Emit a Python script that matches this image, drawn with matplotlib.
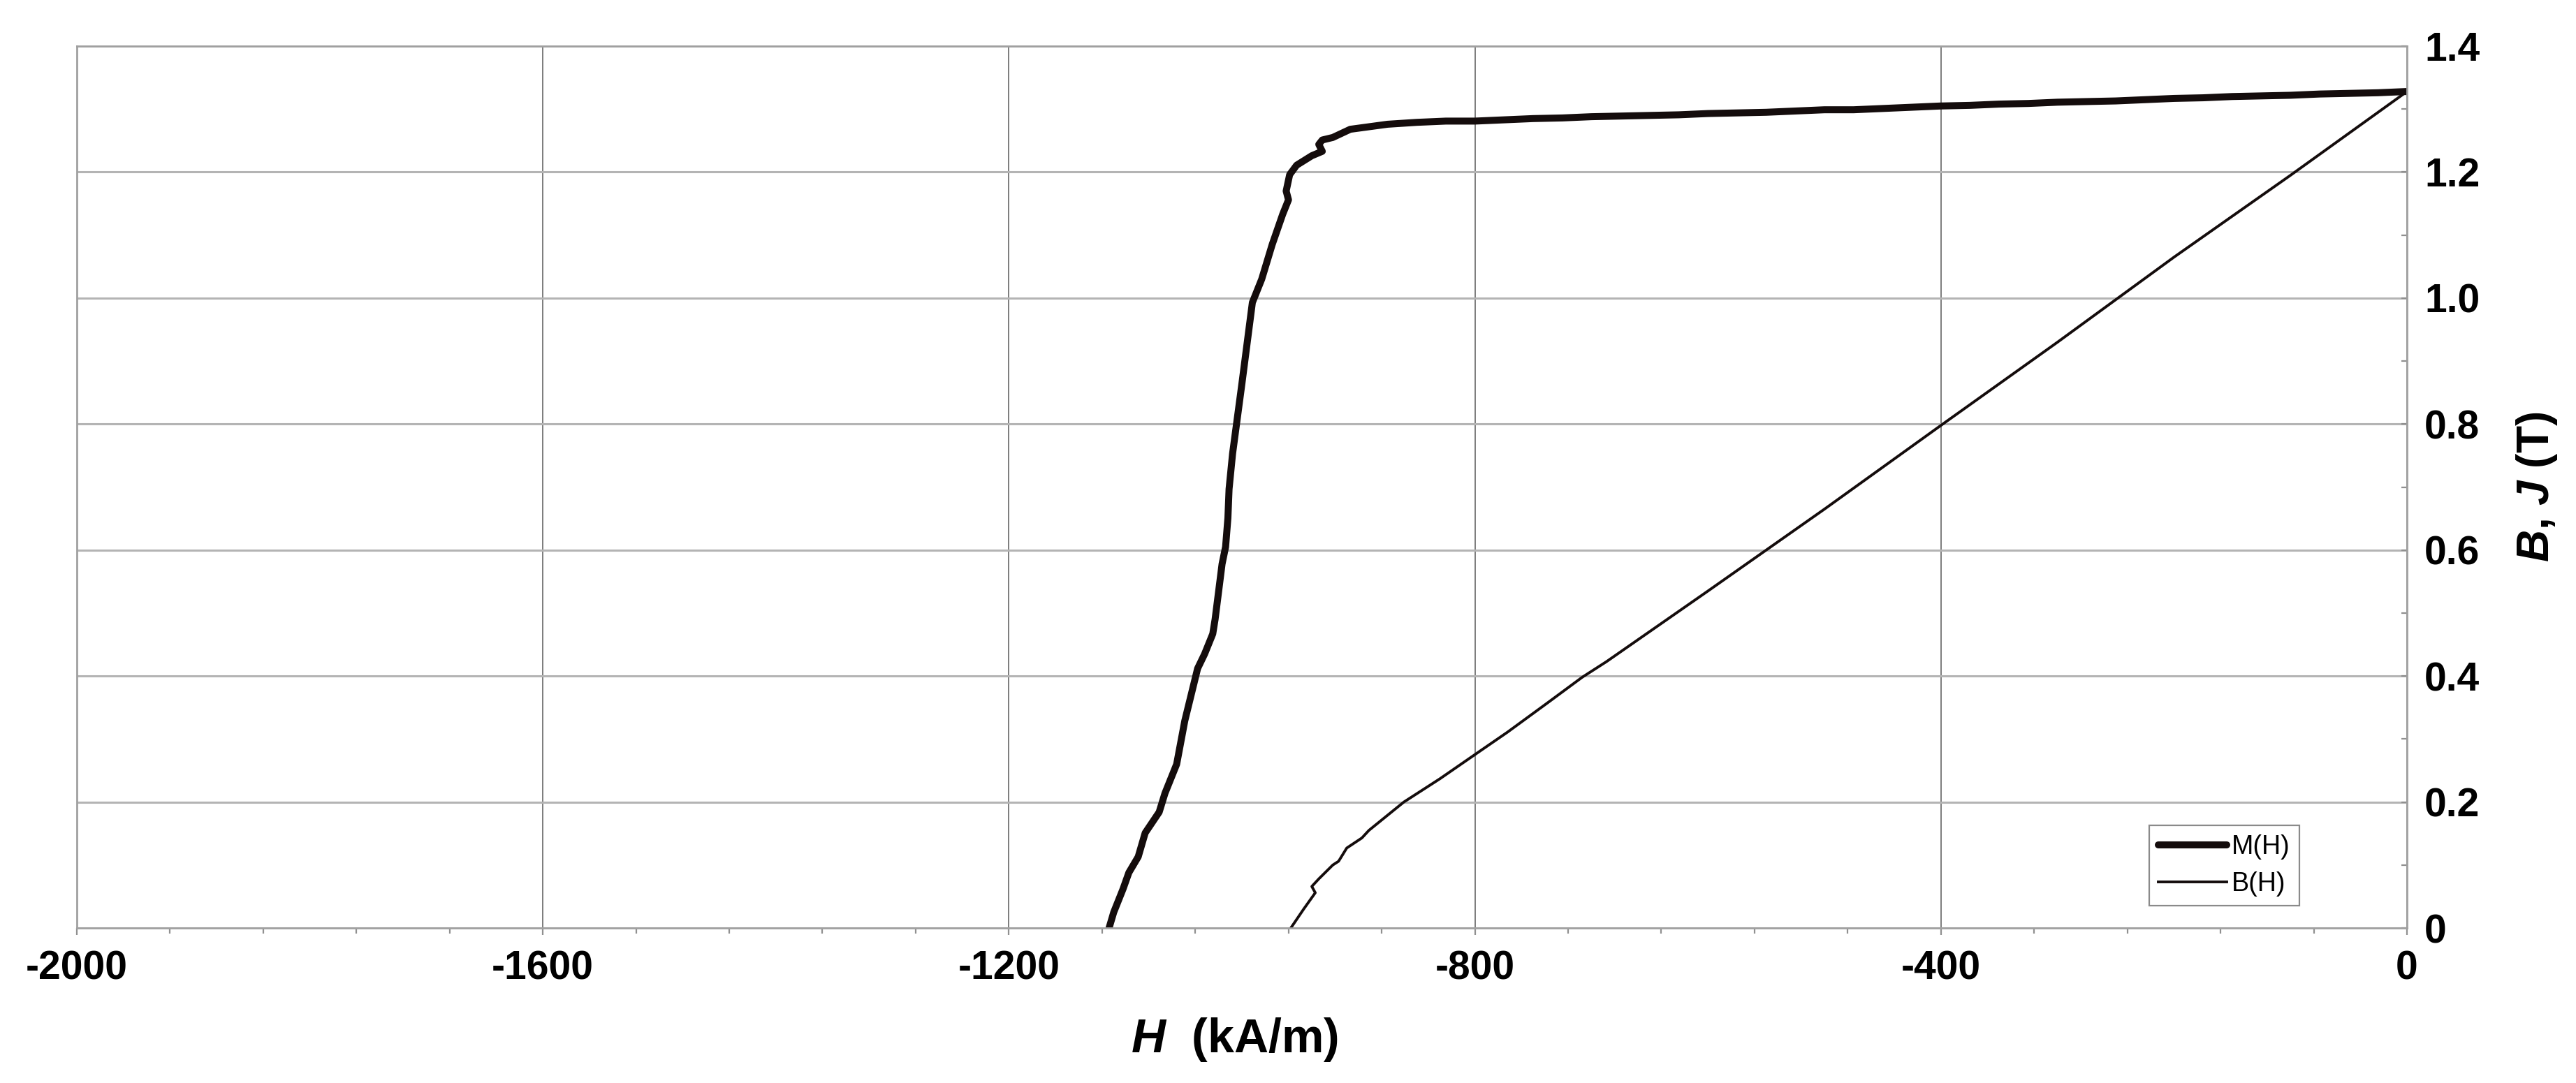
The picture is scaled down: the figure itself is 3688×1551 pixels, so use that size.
import matplotlib
matplotlib.use('Agg')
import matplotlib.pyplot as plt
from matplotlib.ticker import MultipleLocator

# demagnetisation curves, H in kA/m, values in T
h_m = [-1114, -1110, -1102, -1097, -1089, -1083, -1071, -1066, -1056, -1049,
       -1038, -1032, -1025, -1023, -1017, -1014, -1012, -1011, -1008, -1000,
       -991, -983, -974, -965, -960, -962, -959, -953, -940, -931,
       -934, -931, -922, -907, -875, -850, -825, -800, -775, -750,
       -725, -700, -675, -650, -625, -600, -575, -550, -525, -500,
       -475, -450, -425, -400, -375, -350, -325, -300, -275, -250,
       -225, -200, -175, -150, -125, -100, -75, -50, -25, 0]
m_vals = [0.000, 0.025, 0.062, 0.088, 0.113, 0.151, 0.184, 0.214, 0.260, 0.329,
          0.412, 0.435, 0.467, 0.490, 0.578, 0.605, 0.651, 0.697, 0.753, 0.864,
          0.993, 1.030, 1.085, 1.133, 1.156, 1.170, 1.196, 1.211, 1.226, 1.233,
          1.244, 1.251, 1.255, 1.268, 1.276, 1.279, 1.281, 1.281, 1.283, 1.285,
          1.286, 1.288, 1.289, 1.290, 1.291, 1.293, 1.294, 1.295, 1.297, 1.299,
          1.299, 1.301, 1.303, 1.305, 1.306, 1.308, 1.309, 1.311, 1.312, 1.313,
          1.315, 1.317, 1.318, 1.320, 1.321, 1.322, 1.324, 1.325, 1.326, 1.328]

h_b = [-958, -947, -937, -940, -934, -922, -917, -910, -897, -891,
       -861, -830, -794, -772, -738, -708, -687, -600, -500, -400,
       -300, -200, -100, 0]
b_vals = [0.000, 0.030, 0.056, 0.066, 0.078, 0.100, 0.106, 0.127, 0.143, 0.155,
          0.200, 0.237, 0.283, 0.311, 0.357, 0.398, 0.423, 0.535, 0.665, 0.798,
          0.930, 1.065, 1.195, 1.328]

x_ticks = [-2000, -1600, -1200, -800, -400, 0]
x_tick_labels = ['-2000', '-1600', '-1200', '-800', '-400', '0']
y_ticks = [0, 0.2, 0.4, 0.6, 0.8, 1.0, 1.2, 1.4]
y_tick_labels = ['0', '0.2', '0.4', '0.6', '0.8', '1.0', '1.2', '1.4']

plt.rcParams['font.family'] = ['Liberation Sans', 'DejaVu Sans']
# bold italic symbols in the axis titles
plt.rcParams['mathtext.fontset'] = 'custom'
plt.rcParams['mathtext.it'] = 'Liberation Sans:italic:bold'
plt.rcParams['mathtext.rm'] = 'Liberation Sans:bold'
plt.rcParams['mathtext.bf'] = 'Liberation Sans:bold'

fig = plt.figure(figsize=(18.44, 7.755), dpi=200)
ax = fig.add_axes([0.0298, 0.1431, 0.9046, 0.8143])

ax.plot(h_m, m_vals, color='#140c0c', linewidth=3.6, label='M(H)',
        solid_joinstyle='round', solid_capstyle='round')
ax.plot(h_b, b_vals, color='#140c0c', linewidth=1.4, label='B(H)')

ax.set_xlim(-2000, 0)
ax.set_ylim(0, 1.4)
ax.yaxis.tick_right()
ax.yaxis.set_label_position('right')

ax.set_xticks(x_ticks, x_tick_labels, fontsize=20.5, fontweight='bold')
ax.set_yticks(y_ticks, y_tick_labels, fontsize=20.5, fontweight='bold')
ax.xaxis.set_minor_locator(MultipleLocator(80))
ax.yaxis.set_minor_locator(MultipleLocator(0.1))
ax.tick_params(axis='x', which='both', direction='out', color='#909090', pad=8)
ax.tick_params(axis='x', which='major', length=3.5, width=0.8)
ax.tick_params(axis='x', which='minor', length=2.8, width=0.8)
ax.tick_params(axis='y', which='both', direction='in', color='#909090', pad=9)
ax.tick_params(axis='y', which='major', length=3, width=0.8)
ax.tick_params(axis='y', which='minor', length=3, width=0.8)

ax.yaxis.grid(True, color='#b4b4b4', linewidth=1.1)
ax.xaxis.grid(True, color='#7c7c7c', linewidth=0.7)
for side in ['left', 'right', 'top', 'bottom']:
    ax.spines[side].set_color('#a0a0a0')
    ax.spines[side].set_linewidth(1.0)

ax.set_xlabel(r'$H$  (kA/m)', fontsize=24.5, fontweight='bold')
ax.xaxis.set_label_coords(0.497, -0.1)
ax.set_ylabel(r'$B$, $J$ (T)', fontsize=23, fontweight='bold')
ax.yaxis.set_label_coords(1.046, 0.5)

ax.legend(loc='lower right', bbox_to_anchor=(0.9538, 0.0253), borderaxespad=0,
          fontsize=13.5, frameon=True, fancybox=False, edgecolor='#8a8a8a',
          framealpha=1, handlelength=2.6, handletextpad=0.2, borderpad=0.35,
          labelspacing=0.45)
ax.get_legend().get_frame().set_linewidth(0.8)

fig.savefig('out.png', dpi=200)
